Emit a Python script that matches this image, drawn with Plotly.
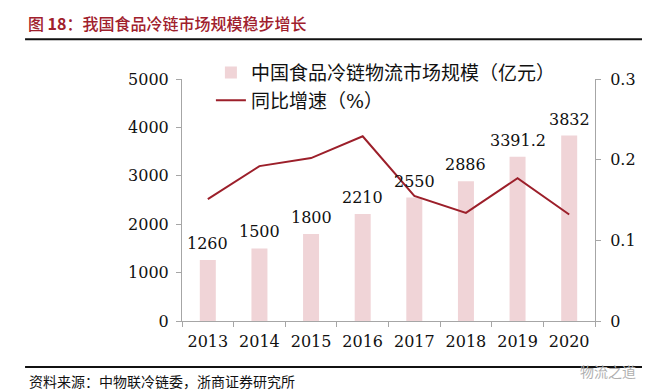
import plotly.graph_objects as go

years = ["2013", "2014", "2015", "2016", "2017", "2018", "2019", "2020"]
market_size = [1260, 1500, 1800, 2210, 2550, 2886, 3391.2, 3832]
size_labels = ["1260", "1500", "1800", "2210", "2550", "2886", "3391.2", "3832"]
growth = [0.151, 0.192, 0.202, 0.229, 0.155, 0.134, 0.177, 0.132]

bar_name = "中国食品冷链物流市场规模（亿元）"
line_name = "同比增速（%）"
title_text = "图 <b>18</b>：我国食品冷链市场规模稳步增长"
source_text = "资料来源：中物联冷链委，浙商证券研究所"
watermark = "物流之道"

num_font = "DejaVu Serif, Liberation Serif, Noto Sans CJK SC"
cjk_font = "DejaVu Serif, Noto Sans CJK SC"
axis_gray = "#a6a6a6"
bar_color = "#f0d4d7"
line_color = "#9c1f2a"

fig = go.Figure()
fig.add_trace(go.Bar(
    x=years, y=market_size, name=bar_name, width=0.31,
    marker=dict(color=bar_color, line=dict(width=0)),
    yaxis="y",
))
fig.add_trace(go.Scatter(
    x=years, y=growth, name=line_name, mode="lines",
    line=dict(color=line_color, width=2),
    yaxis="y2",
))

for i, (v, lab) in enumerate(zip(market_size, size_labels)):
    fig.add_annotation(
        x=i, y=v, xref="x", yref="y", text=lab, showarrow=False,
        yanchor="bottom", yshift=5,
        font=dict(family=num_font, size=16, color="#111111"),
    )

# Header / footer texts and rules
fig.add_annotation(
    x=-0.378, y=1.231, xref="paper", yref="paper", text=title_text,
    showarrow=False, xanchor="left", yanchor="middle",
    font=dict(family="Noto Sans CJK SC", size=16, color="#a0202c", weight=500),
)
fig.add_annotation(
    x=-0.375, y=-0.252, xref="paper", yref="paper", text=source_text,
    showarrow=False, xanchor="left", yanchor="middle",
    font=dict(family=cjk_font, size=14, color="#111111"),
)
fig.add_annotation(
    x=1.104, y=-0.205, xref="paper", yref="paper", text=watermark,
    showarrow=False, xanchor="right", yanchor="middle",
    font=dict(family="Noto Sans CJK SC", size=14, color="#b0b0b0"),
)
fig.add_shape(type="line", xref="paper", yref="paper",
              x0=-0.38, x1=1.16, y0=1.164, y1=1.164,
              line=dict(color="#111111", width=2))
fig.add_shape(type="line", xref="paper", yref="paper",
              x0=-0.38, x1=1.16, y0=-0.19, y1=-0.19,
              line=dict(color="#111111", width=2))

fig.update_layout(
    width=650, height=391,
    margin=dict(l=174, r=63, t=71, b=78, autoexpand=False),
    paper_bgcolor="white", plot_bgcolor="white",
    showlegend=True,
    legend=dict(
        x=0.07, y=1.105, xanchor="left", yanchor="top",
        bgcolor="rgba(0,0,0,0)", itemwidth=30,
        font=dict(family=cjk_font, size=19, color="#111111"),
        tracegroupgap=0,
    ),
    xaxis=dict(
        type="category", range=[-0.5, 7.5], autorange=False,
        showgrid=False, showline=True, linecolor=axis_gray,
        ticks="outside", tickson="boundaries", ticklen=5, tickcolor=axis_gray,
        tickangle=0, automargin=False,
        tickfont=dict(family=num_font, size=16, color="#111111"),
        ticklabelstandoff=6,
    ),
    yaxis=dict(
        range=[0, 5000], dtick=1000, showgrid=False, zeroline=False,
        showline=True, linecolor=axis_gray, ticks="outside", ticklen=5,
        tickcolor=axis_gray, automargin=False,
        tickfont=dict(family=num_font, size=16, color="#111111"),
        ticklabelstandoff=4,
    ),
    yaxis2=dict(
        range=[0, 0.3], overlaying="y", side="right", showgrid=False,
        zeroline=False, showline=True, linecolor=axis_gray, ticks="outside",
        ticklen=5, tickcolor=axis_gray, automargin=False,
        tickvals=[0, 0.1, 0.2, 0.3], ticktext=["0", "0.1", "0.2", "0.3"],
        tickfont=dict(family=num_font, size=16, color="#111111"),
        ticklabelstandoff=6,
    ),
)

fig.write_html("out.html")
